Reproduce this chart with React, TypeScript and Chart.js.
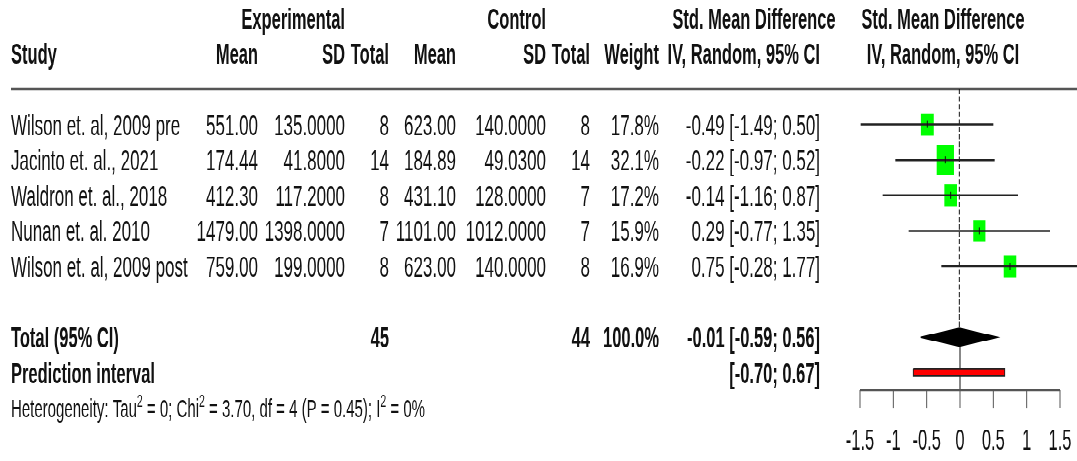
import { useEffect, useRef } from 'react';
import { Chart, registerables } from 'chart.js';

Chart.register(...registerables);

// ---- study data ----
const studies = [
  'Wilson et. al, 2009 pre',
  'Jacinto et. al., 2021',
  'Waldron et. al., 2018',
  'Nunan et. al. 2010',
  'Wilson et. al, 2009 post',
];
const expMean = [551.0, 174.44, 412.3, 1479.0, 759.0];
const expSD = [135.0, 41.8, 117.2, 1398.0, 199.0];
const expN = [8, 14, 8, 7, 8];
const ctrlMean = [623.0, 184.89, 431.1, 1101.0, 623.0];
const ctrlSD = [140.0, 49.03, 128.0, 1012.0, 140.0];
const ctrlN = [8, 14, 7, 7, 8];
const weights = [17.8, 32.1, 17.2, 15.9, 16.9];
const smd = [-0.49, -0.22, -0.14, 0.29, 0.75];
const ciLow = [-1.49, -0.97, -1.16, -0.77, -0.28];
const ciHigh = [0.5, 0.52, 0.87, 1.35, 1.77];

// pooled random-effects estimate and prediction interval
const pooled = [-0.01];
const pooledLow = [-0.59];
const pooledHigh = [0.56];
const pooledWeight = [100.0];
const predLow = [-0.7];
const predHigh = [0.67];

// heterogeneity statistics
const tau2 = [0];
const chi2 = [3.7];
const hetDf = [4];
const hetP = [0.45];
const i2 = [0];

const xTicks = [-1.5, -1, -0.5, 0, 0.5, 1, 1.5];

// ---- layout ----
const CANVAS_W = 1077;
const CANVAS_H = 264;
const STRETCH = 461 / CANVAS_H;
const FONT = '"Liberation Sans", Arial, Helvetica, sans-serif';
const REG_SIZE = 17;
const BOLD_SIZE = 16.5;
const ROW_TOTAL = 6;
const ROW_PRED = 7;
const ROW_HET = 8;

const COL = {
  study: 11,
  expMean: 258,
  expSD: 345,
  expN: 389,
  ctrlMean: 456,
  ctrlSD: 546,
  ctrlN: 590,
  weight: 659,
  ci: 820,
  smdHead: 754,
  plotHead: 943,
};

const f2 = (v: number) => v.toFixed(2);
const ciText = (m: number, lo: number, hi: number) => `${f2(m)} [${f2(lo)}; ${f2(hi)}]`;

function drawText(
  ctx: CanvasRenderingContext2D,
  s: string,
  x: number,
  y: number,
  align: CanvasTextAlign,
  bold = false,
) {
  const size = bold ? BOLD_SIZE : REG_SIZE;
  ctx.font = `${bold ? 'bold ' : ''}${size}px ${FONT}`;
  ctx.textAlign = align;
  ctx.textBaseline = 'alphabetic';
  ctx.fillStyle = '#111';
  ctx.fillText(s, x, y);
}

export default function App() {
  const ref = useRef<HTMLCanvasElement>(null);

  useEffect(() => {
    const canvas = ref.current;
    if (!canvas) return;

    const forestDecor = {
      id: 'forestDecor',
      beforeDatasetsDraw(chart: any) {
        const ctx: CanvasRenderingContext2D = chart.ctx;
        const y = chart.scales.y;
        const top = y.getPixelForValue(-1);
        ctx.save();
        ctx.strokeStyle = '#555';
        ctx.lineWidth = 1.2;
        ctx.beginPath();
        ctx.moveTo(COL.study, top);
        ctx.lineTo(CANVAS_W, top);
        ctx.stroke();
        ctx.restore();
      },
      afterDatasetsDraw(chart: any) {
        const ctx: CanvasRenderingContext2D = chart.ctx;
        const xs = chart.scales.x;
        const ys = chart.scales.y;
        const base = (r: number) => ys.getPixelForValue(r) + 6;
        ctx.save();

        // x axis
        const axisY = ys.getPixelForValue(7.5);
        ctx.strokeStyle = '#555';
        ctx.lineWidth = 1.2;
        ctx.beginPath();
        ctx.moveTo(xs.getPixelForValue(xTicks[0]), axisY);
        ctx.lineTo(xs.getPixelForValue(xTicks[xTicks.length - 1]), axisY);
        ctx.stroke();
        ctx.lineWidth = 1;
        xTicks.forEach((t) => {
          const px = xs.getPixelForValue(t);
          ctx.beginPath();
          ctx.moveTo(px, axisY);
          ctx.lineTo(px, axisY + 10);
          ctx.stroke();
          ctx.font = `16.5px ${FONT}`;
          ctx.textAlign = 'center';
          ctx.fillStyle = '#111';
          ctx.fillText(String(t), px, 257.3);
        });

        // headers
        drawText(ctx, 'Experimental', COL.expSD, base(-3), 'right', true);
        drawText(ctx, 'Control', COL.ctrlSD, base(-3), 'right', true);
        drawText(ctx, 'Std. Mean Difference', COL.smdHead, base(-3), 'center', true);
        drawText(ctx, 'Std. Mean Difference', COL.plotHead, base(-3), 'center', true);
        drawText(ctx, 'Study', COL.study, base(-2), 'left', true);
        drawText(ctx, 'Mean', COL.expMean, base(-2), 'right', true);
        drawText(ctx, 'SD', COL.expSD, base(-2), 'right', true);
        drawText(ctx, 'Total', COL.expN, base(-2), 'right', true);
        drawText(ctx, 'Mean', COL.ctrlMean, base(-2), 'right', true);
        drawText(ctx, 'SD', COL.ctrlSD, base(-2), 'right', true);
        drawText(ctx, 'Total', COL.ctrlN, base(-2), 'right', true);
        drawText(ctx, 'Weight', COL.weight, base(-2), 'right', true);
        drawText(ctx, 'IV, Random, 95% CI', COL.ci, base(-2), 'right', true);
        drawText(ctx, 'IV, Random, 95% CI', COL.plotHead, base(-2), 'center', true);

        // study rows
        studies.forEach((name, i) => {
          const b = base(i);
          drawText(ctx, name, COL.study, b, 'left');
          drawText(ctx, f2(expMean[i]), COL.expMean, b, 'right');
          drawText(ctx, expSD[i].toFixed(4), COL.expSD, b, 'right');
          drawText(ctx, String(expN[i]), COL.expN, b, 'right');
          drawText(ctx, f2(ctrlMean[i]), COL.ctrlMean, b, 'right');
          drawText(ctx, ctrlSD[i].toFixed(4), COL.ctrlSD, b, 'right');
          drawText(ctx, String(ctrlN[i]), COL.ctrlN, b, 'right');
          drawText(ctx, `${weights[i].toFixed(1)}%`, COL.weight, b, 'right');
          drawText(ctx, ciText(smd[i], ciLow[i], ciHigh[i]), COL.ci, b, 'right');
        });

        // pooled rows
        const totalExp = expN.reduce((a, v) => a + v, 0);
        const totalCtrl = ctrlN.reduce((a, v) => a + v, 0);
        const bt = base(ROW_TOTAL);
        drawText(ctx, 'Total (95% CI)', COL.study, bt, 'left', true);
        drawText(ctx, String(totalExp), COL.expN, bt, 'right', true);
        drawText(ctx, String(totalCtrl), COL.ctrlN, bt, 'right', true);
        drawText(ctx, `${pooledWeight[0].toFixed(1)}%`, COL.weight, bt, 'right', true);
        drawText(ctx, ciText(pooled[0], pooledLow[0], pooledHigh[0]), COL.ci, bt, 'right', true);
        const bp = base(ROW_PRED);
        drawText(ctx, 'Prediction interval', COL.study, bp, 'left', true);
        drawText(ctx, `[${f2(predLow[0])}; ${f2(predHigh[0])}]`, COL.ci, bp, 'right', true);

        // heterogeneity line with superscripts
        const bh = ys.getPixelForValue(ROW_HET) + 5.4;
        const parts: [string, boolean][] = [
          ['Heterogeneity: Tau', false],
          ['2', true],
          [` = ${tau2[0]}; Chi`, false],
          ['2', true],
          [` = ${chi2[0].toFixed(2)}, df = ${hetDf[0]} (P = ${hetP[0].toFixed(2)}); I`, false],
          ['2', true],
          [` = ${i2[0]}%`, false],
        ];
        let cx = COL.study;
        parts.forEach(([s, sup]) => {
          const size = sup ? 10.5 : 15;
          ctx.font = `${size}px ${FONT}`;
          ctx.textAlign = 'left';
          ctx.fillStyle = '#111';
          ctx.fillText(s, cx, sup ? bh - 6 : bh);
          cx += ctx.measureText(s).width;
        });

        ctx.restore();
      },
    };

    const boxSide = (w: number) => 3.05 * Math.sqrt(w);
    const whiskers = studies.map((_, i) => ({
      type: 'line' as const,
      data: [
        { x: ciLow[i], y: i },
        { x: ciHigh[i], y: i },
      ],
      borderColor: '#222',
      borderWidth: 1.25,
      pointRadius: 0,
      fill: false,
      clip: false as any,
      order: 1,
    }));

    const chart = new Chart(canvas, {
      type: 'scatter',
      data: {
        datasets: [
          {
            type: 'scatter',
            data: smd.map((v, i) => ({ x: v, y: i })),
            pointStyle: 'rect',
            pointRadius: weights.map((w) => boxSide(w) / Math.SQRT2),
            backgroundColor: '#00ff00',
            borderWidth: 0,
            clip: false as any,
            order: 4,
          },
          {
            type: 'line',
            data: [
              { x: pooled[0], y: -1 },
              { x: pooled[0], y: ROW_TOTAL - 0.25 },
            ],
            borderColor: '#111',
            borderWidth: 1,
            borderDash: [3, 1.3],
            pointRadius: 0,
            fill: false,
            order: 3,
          },
          {
            type: 'line',
            data: [
              { x: 0, y: ROW_TOTAL - 0.25 },
              { x: 0, y: 7.5 },
            ],
            borderColor: '#111',
            borderWidth: 1,
            pointRadius: 0,
            fill: false,
            order: 3,
          },
          ...whiskers,
          {
            type: 'scatter',
            data: smd.map((v, i) => ({ x: v, y: i })),
            pointStyle: 'line',
            rotation: 90,
            pointRadius: 2,
            borderColor: '#111',
            borderWidth: 1,
            order: 0,
          },
          {
            type: 'line',
            data: [
              { x: pooledLow[0], y: ROW_TOTAL },
              { x: pooled[0], y: ROW_TOTAL - 0.25 },
              { x: pooledHigh[0], y: ROW_TOTAL },
              { x: pooled[0], y: ROW_TOTAL + 0.25 },
              { x: pooledLow[0], y: ROW_TOTAL },
            ],
            borderColor: '#000',
            borderWidth: 0.8,
            backgroundColor: '#000',
            fill: 'shape',
            pointRadius: 0,
            tension: 0,
            order: 1,
          },
          {
            type: 'line',
            data: [
              { x: predLow[0], y: ROW_PRED - 0.1 },
              { x: predHigh[0], y: ROW_PRED - 0.1 },
              { x: predHigh[0], y: ROW_PRED + 0.1 },
              { x: predLow[0], y: ROW_PRED + 0.1 },
              { x: predLow[0], y: ROW_PRED - 0.1 },
            ],
            borderColor: '#222',
            borderWidth: 0.9,
            backgroundColor: '#ff0000',
            fill: 'shape',
            pointRadius: 0,
            tension: 0,
            order: 1,
          },
        ] as any,
      },
      options: {
        animation: false,
        responsive: false,
        devicePixelRatio: 2,
        events: [],
        layout: {
          padding: { left: 860, right: CANVAS_W - 1060, top: 51, bottom: CANVAS_H - 223.55 },
        },
        scales: {
          x: { type: 'linear', min: -1.5, max: 1.5, display: false },
          y: { type: 'linear', min: -1, max: 7.5, reverse: true, display: false },
        },
        plugins: {
          legend: { display: false },
          tooltip: { enabled: false },
        },
      },
      plugins: [forestDecor],
    });

    return () => chart.destroy();
  }, []);

  return (
    <div
      style={{
        position: 'fixed',
        left: 0,
        top: 0,
        width: CANVAS_W,
        height: CANVAS_H,
        background: '#fff',
        transform: `scaleY(${STRETCH})`,
        transformOrigin: '0 0',
      }}
    >
      <canvas ref={ref} width={CANVAS_W} height={CANVAS_H} style={{ display: 'block' }} />
    </div>
  );
}
